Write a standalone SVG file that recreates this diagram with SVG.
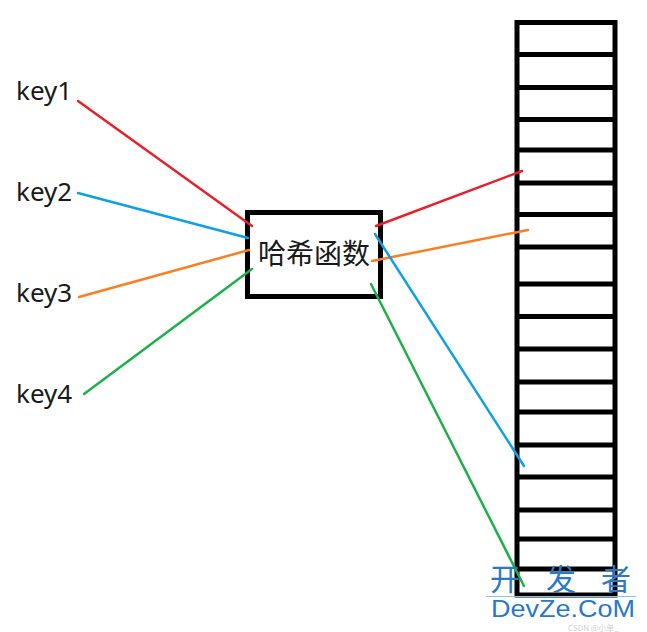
<svg xmlns="http://www.w3.org/2000/svg" width="647" height="632" viewBox="0 0 647 632">
<style>
.key{font-family:"Noto Sans","Open Sans","DejaVu Sans",sans-serif;font-size:26px;fill:#1a1a1a}
.box{fill:#fff;stroke:#000;stroke-width:5}
.cell{stroke:#000;stroke-width:5;fill:none}
.ln{stroke-width:2.5;fill:none;stroke-linecap:round}
.wm{font-family:"Noto Sans CJK SC","Noto Sans",sans-serif;fill:#2a78c8}
</style>
<rect width="647" height="632" fill="#fff"/>
<g id="key1"><text class="key" x="16" y="100">key1</text></g>
<g id="key2"><text class="key" x="16" y="201">key2</text></g>
<g id="key3"><text class="key" x="16" y="302">key3</text></g>
<g id="key4"><text class="key" x="16" y="403">key4</text></g>
<g id="hash">
<rect class="box" x="247.5" y="212.5" width="133" height="84"/>
<text x="314" y="264" text-anchor="middle" font-family="Noto Sans CJK SC, sans-serif" font-size="28" fill="#1a1a1a">哈希函数</text>
</g>
<g id="table">
<rect class="cell" x="517" y="22.5" width="98" height="572.5"/>
<path class="cell" d="M517 54.5H615M517 87.5H615M517 119.5H615M517 150H615M517 183H615M517 214.5H615M517 247H615M517 284H615M517 316.5H615M517 349H615M517 382H615M517 412H615M517 445H615M517 477H615M517 510H615M517 539H615M517 569H615"/>
</g>
<g id="connectors">
<line class="ln" stroke="#e8202a" x1="78" y1="101" x2="252" y2="226"/>
<line class="ln" stroke="#0ea0e6" x1="78" y1="193" x2="248" y2="238"/>
<line class="ln" stroke="#fb7f22" x1="79" y1="297" x2="249" y2="250"/>
<line class="ln" stroke="#1eb04a" x1="84" y1="394" x2="252" y2="269"/>
<line class="ln" stroke="#e8202a" x1="376" y1="226" x2="522" y2="171"/>
<line class="ln" stroke="#fb7f22" x1="372" y1="261" x2="528" y2="230"/>
<line class="ln" stroke="#0ea0e6" x1="375" y1="234" x2="524" y2="466"/>
<line class="ln" stroke="#1eb04a" x1="371" y1="284" x2="524" y2="586"/>
</g>
<g id="watermark">
<text class="wm" x="490" y="590" font-size="30">开</text>
<text class="wm" x="546" y="590" font-size="30">发</text>
<text class="wm" x="601" y="590" font-size="30">者</text>
<line x1="486" y1="596.5" x2="636" y2="596.5" stroke="#8ec0ec" stroke-width="1"/>
<text x="491" y="617" font-family="Liberation Sans, Arial, sans-serif" font-size="24" fill="#2a78c8" textLength="144" lengthAdjust="spacingAndGlyphs">DevZe.CoM</text>
<text x="568" y="630.5" font-family="Noto Sans CJK SC, sans-serif" font-size="8" fill="#d0d0d0">CSDN @小单_</text>
</g>
</svg>
